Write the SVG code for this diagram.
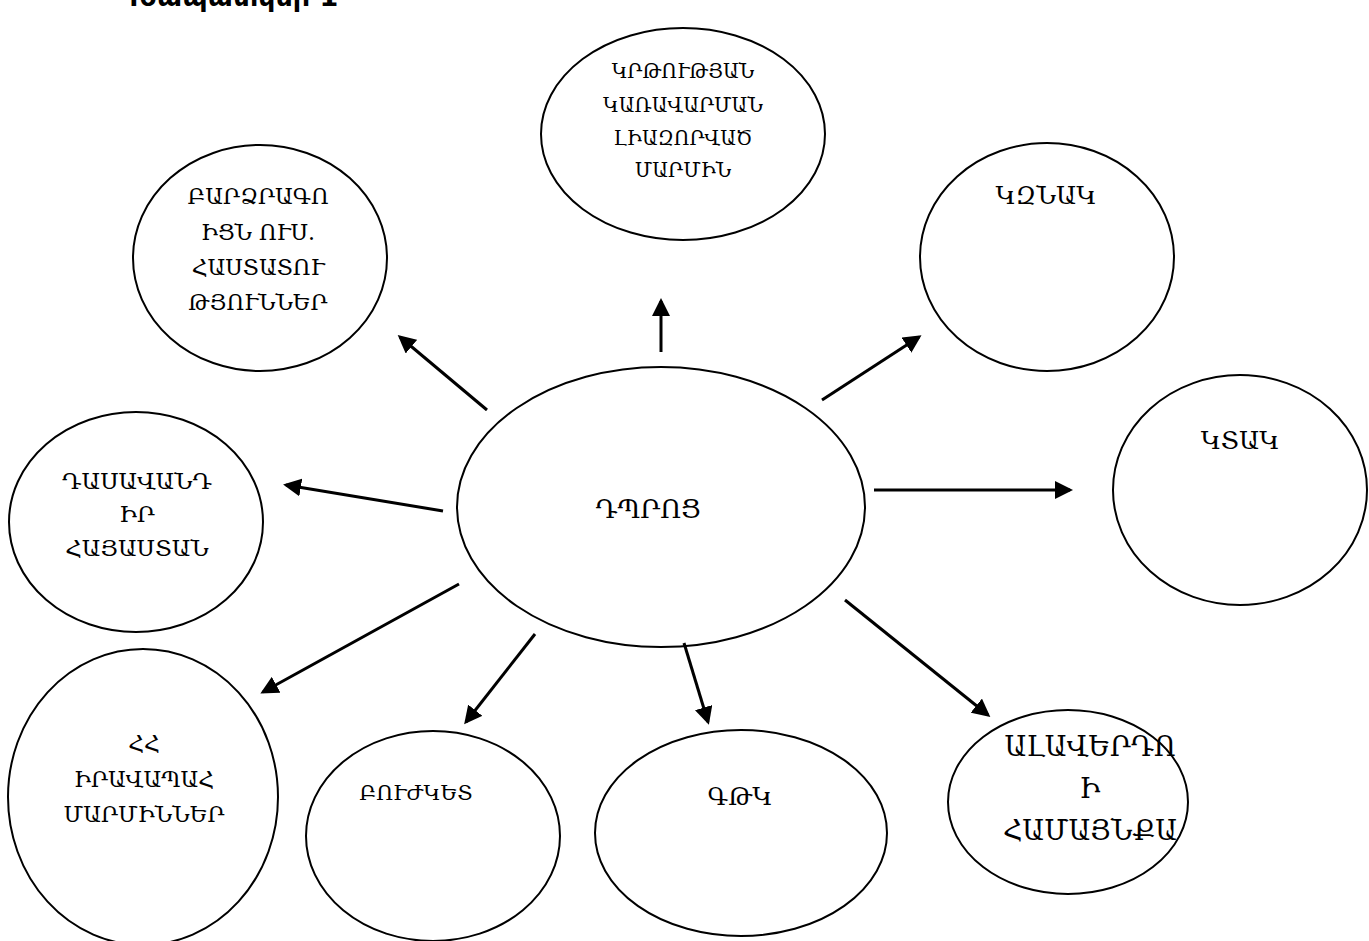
<svg xmlns="http://www.w3.org/2000/svg" width="1369" height="941" viewBox="0 0 1369 941">
<style>
.n{fill:#fff;stroke:#000;stroke-width:2}
.t{font-family:"DejaVu Serif","Liberation Serif",serif;font-size:22px;fill:#000;text-anchor:middle}
.c{stroke:#000;stroke-width:3;fill:none;marker-end:url(#ah)}
.h{font-family:"DejaVu Sans","Liberation Sans",sans-serif;font-size:27px;font-weight:bold;fill:#000}
</style>
<defs>
<marker id="ah" markerWidth="6" markerHeight="6" refX="5" refY="3" orient="auto" markerUnits="strokeWidth">
<path d="M0,0 L6,3 L0,6 z" fill="#000"/>
</marker>
</defs>
<rect width="1369" height="941" fill="#fff"/>
<text class="h" x="120" y="6">Գծապատկեր 1</text>
<g id="center"><ellipse class="n" cx="661" cy="507" rx="204" ry="140"/><text class="t" x="648" y="518" style="font-size:26px">ԴՊՐՈՑ</text></g>
<g id="n-barcr"><ellipse class="n" cx="260" cy="258" rx="127" ry="113"/>
<text class="t" x="258" y="204">ԲԱՐՁՐԱԳՈ</text><text class="t" x="258" y="240">ԻՑՆ ՈՒՍ.</text><text class="t" x="258" y="275">ՀԱՍՏԱՏՈՒ</text><text class="t" x="258" y="310">ԹՅՈՒՆՆԵՐ</text></g>
<g id="n-krt"><ellipse class="n" cx="683" cy="134" rx="142" ry="106"/>
<text class="t" x="683" y="78" style="font-size:19.5px">ԿՐԹՈՒԹՅԱՆ</text><text class="t" x="683" y="112" style="font-size:19.5px">ԿԱՌԱՎԱՐՄԱՆ</text><text class="t" x="683" y="145" style="font-size:19.5px">ԼԻԱԶՈՐՎԱԾ</text><text class="t" x="683" y="177" style="font-size:19.5px">ՄԱՐՄԻՆ</text></g>
<g id="n-kznak"><ellipse class="n" cx="1047" cy="257" rx="127" ry="114"/><text class="t" x="1046" y="204" style="font-size:25px">ԿԶՆԱԿ</text></g>
<g id="n-ktak"><ellipse class="n" cx="1240" cy="490" rx="127" ry="115"/><text class="t" x="1240" y="449" style="font-size:25px">ԿՏԱԿ</text></g>
<g id="n-dasav"><ellipse class="n" cx="136" cy="522" rx="127" ry="110"/>
<text class="t" x="137" y="489" style="font-size:23px">ԴԱՍԱՎԱՆԴ</text><text class="t" x="137" y="522" style="font-size:23px">ԻՐ</text><text class="t" x="137" y="556" style="font-size:23px">ՀԱՅԱՍՏԱՆ</text></g>
<g id="n-hh"><ellipse class="n" cx="143" cy="797" rx="135" ry="148"/>
<text class="t" x="144" y="751">ՀՀ</text><text class="t" x="144" y="787">ԻՐԱՎԱՊԱՀ</text><text class="t" x="144" y="822">ՄԱՐՄԻՆՆԵՐ</text></g>
<g id="n-buj"><ellipse class="n" cx="433" cy="836" rx="127" ry="105"/><text class="t" x="416" y="800" style="font-size:21px">ԲՈՒԺԿԵՏ</text></g>
<g id="n-gtk"><ellipse class="n" cx="741" cy="833" rx="146" ry="103"/><text class="t" x="740" y="805" style="font-size:25px">ԳԹԿ</text></g>
<g id="n-alav"><ellipse class="n" cx="1068" cy="802" rx="120" ry="92"/>
<text class="t" x="1090" y="756" style="font-size:27px">ԱԼԱՎԵՐԴՈ</text><text class="t" x="1090" y="798" style="font-size:27px">Ի</text><text class="t" x="1090" y="840" style="font-size:27px">ՀԱՄԱՅՆՔԱ</text></g>
<g id="connectors">
<line class="c" x1="487" y1="410" x2="400" y2="337"/>
<line class="c" x1="661" y1="352" x2="661" y2="301"/>
<line class="c" x1="822" y1="400" x2="919" y2="337"/>
<line class="c" x1="874" y1="490" x2="1070" y2="490"/>
<line class="c" x1="443" y1="511" x2="286" y2="485"/>
<line class="c" x1="459" y1="584" x2="263" y2="692"/>
<line class="c" x1="535" y1="634" x2="466" y2="722"/>
<line class="c" x1="684" y1="643" x2="708" y2="722"/>
<line class="c" x1="845" y1="600" x2="988" y2="715"/>
</g>
</svg>
